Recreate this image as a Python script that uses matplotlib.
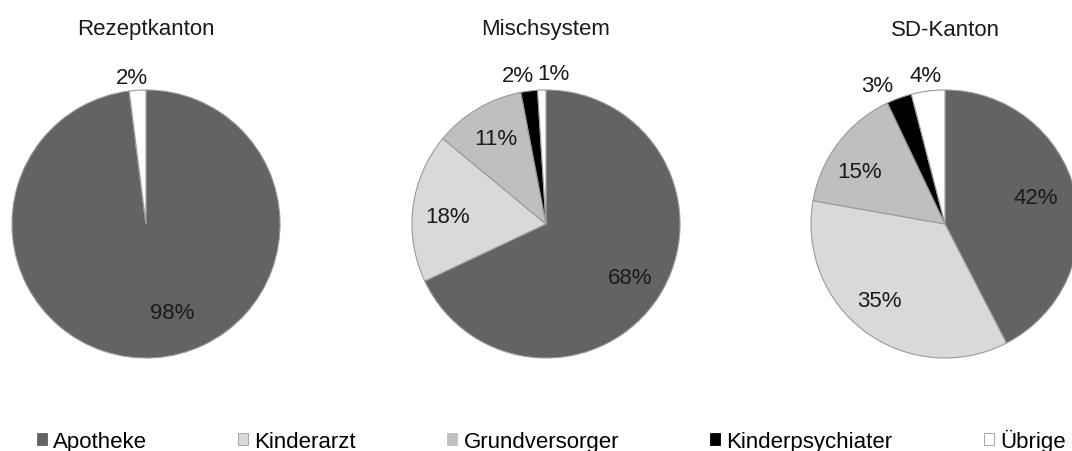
import numpy as np
import matplotlib
matplotlib.use("Agg")
import matplotlib.pyplot as plt
from matplotlib.patches import Patch
from matplotlib import font_manager

categories = ["Apotheke", "Kinderarzt", "Grundversorger", "Kinderpsychiater", "Übrige"]
titles = ["Rezeptkanton", "Mischsystem", "SD-Kanton"]
rezeptkanton = [98, 0, 0, 0, 2]
mischsystem = [68, 18, 11, 2, 1]
sd_kanton = [42, 35, 15, 3, 4]
series = [rezeptkanton, mischsystem, sd_kanton]

colors = ["#636363", "#d9d9d9", "#bfbfbf", "#000000", "#ffffff"]
edge = "#9a9a9a"

W, H = 1072, 452
fig = plt.figure(figsize=(W / 100, H / 100), dpi=100)
fig.patch.set_facecolor("white")

names = {f.name for f in font_manager.fontManager.ttflist}
main_font = "Liberation Sans" if "Liberation Sans" in names else "DejaVu Sans"
plt.rcParams["font.family"] = [main_font, "DejaVu Sans"]

centers = [(146, 225), (546, 225), (945, 225)]
R = 134
fs = 16
# label nudges in pixels (right, down)
nudges = {(0, 0): (20, -10), (0, 4): (-5, 3), (1, 1): (0, 5), (1, 3): (-9, 0),
          (1, 4): (12, 0), (2, 0): (-6, -3), (2, 1): (-7, -3), (2, 2): (-7, 8),
          (2, 3): (-16, 3)}

for i, (vals, title, (cx, cy)) in enumerate(zip(series, titles, centers)):
    ax = fig.add_axes([(cx - R) / W, (H - cy - R) / H, 2 * R / W, 2 * R / H])
    ax.axis("off")
    wedges, _ = ax.pie(vals, colors=colors, startangle=90, counterclock=False, radius=1,
                       wedgeprops=dict(edgecolor=edge, linewidth=0.8))
    ax.set_xlim(-1, 1)
    ax.set_ylim(-1, 1)
    for j, (w, v) in enumerate(zip(wedges, vals)):
        if v <= 0:
            continue
        mid = np.deg2rad((w.theta1 + w.theta2) / 2)
        d = 0.74 if v >= 5 else 1.12
        x, y = d * np.cos(mid), d * np.sin(mid)
        dx, dy = nudges.get((i, j), (0, 0))
        x += dx / R
        y -= dy / R
        ax.text(x, y, f"{v}%", ha="center", va="center", fontsize=fs,
                color="#1a1a1a", clip_on=False)
    fig.text(cx / W, 1 - 30 / H, title, ha="center", va="center", fontsize=fs, color="#1a1a1a")

handles = [Patch(facecolor=c, edgecolor=(edge if c in ("#ffffff", "#d9d9d9") else c), linewidth=0.6)
           for c in colors]
fig.legend(handles=handles, labels=categories, ncol=5, loc="center left",
           bbox_to_anchor=(37 / W, 1 - 441 / H), frameon=False,
           handlelength=0.45, handleheight=0.45, handletextpad=0.28,
           columnspacing=4.1, borderpad=0, borderaxespad=0,
           prop={"family": main_font, "size": fs})

fig.savefig("out.png", dpi=100, facecolor="white")
